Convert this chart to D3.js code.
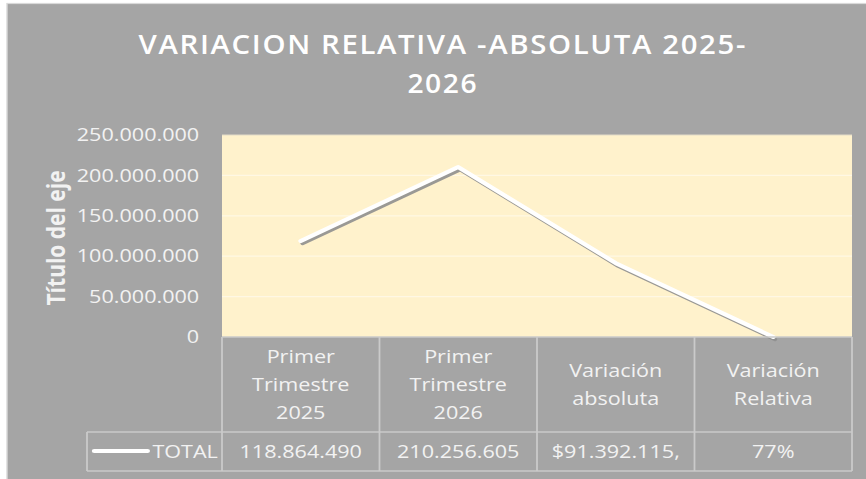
<!DOCTYPE html>
<html>
<head>
<meta charset="utf-8">
<script src="https://cdn.jsdelivr.net/npm/d3@7"></script>
<style>
  body { margin: 0; background: #fff; }
  text { font-family: "Open Sans", sans-serif; fill: #f2f2f2; }
</style>
</head>
<body>
<svg id="chart"></svg>
<script>
// chart data
const categories = [
    ["Primer", "Trimestre", "2025"],
    ["Primer", "Trimestre", "2026"],
    ["Variación", "absoluta"],
    ["Variación", "Relativa"]
]
const values = [118864490, 210256605, 91392115, 0.77]
const tableLabels = ["118.864.490", "210.256.605", "$91.392.115,", "77%"]
const yTicks = [0, 50000000, 100000000, 150000000, 200000000, 250000000]
const seriesName = "TOTAL"
const titleLines = ["VARIACION RELATIVA -ABSOLUTA 2025-", "2026"]

// the original picture is stretched sideways, so draw in a narrower frame
const stretch = 1.2
const W = 866 / stretch
const H = 479

const plot = { left: 185, right: 710, top: 135, bottom: 337 }
const table = { left: 72.5, headBottom: 432, bottom: 471 }

const locale = d3.formatLocale({ decimal: ",", thousands: ".", grouping: [3], currency: ["$", ""] })
const fmt = locale.format(",")

const svg = d3.select('#chart')
              .attr('width', 866)
              .attr('height', H)
              .attr('viewBox', `0 0 ${W} ${H}`)
              .attr('preserveAspectRatio', 'none')

// chart background
svg.append('rect')
   .attr('x', 7 / stretch).attr('y', 3.5)
   .attr('width', W).attr('height', H)
   .attr('fill', '#a5a5a5')
   .attr('stroke', '#d9d9d9')
   .attr('stroke-width', 1.2)

// title
svg.append('g')
   .selectAll('text')
   .data(titleLines)
   .enter().append('text')
   .attr('x', 369)
   .attr('y', (d, i) => 54 + i * 39)
   .attr('textLength', (d, i) => i == 0 ? 507 : 59)
   .attr('lengthAdjust', 'spacingAndGlyphs')
   .style('text-anchor', 'middle')
   .style('font-weight', 600)
   .style('font-size', '27px')
   .style('letter-spacing', '1.5px')
   .style('fill', '#ffffff')
   .text(d => d)

const x = d3.scaleBand()
            .domain(d3.range(categories.length))
            .range([plot.left, plot.right])
const y = d3.scaleLinear()
            .domain([0, 250000000])
            .range([plot.bottom, plot.top])

// plot area
svg.append('rect')
   .attr('x', plot.left).attr('y', plot.top)
   .attr('width', plot.right - plot.left)
   .attr('height', plot.bottom - plot.top)
   .attr('fill', '#fff2cc')

// gridlines
svg.append('g')
   .selectAll('line')
   .data(yTicks.slice(1))
   .enter().append('line')
   .attr('x1', plot.left).attr('x2', plot.right)
   .attr('y1', d => y(d)).attr('y2', d => y(d))
   .attr('stroke', d => d == 250000000 ? '#e3dcc8' : '#fff8e4')
   .attr('stroke-width', 1.2)

// y axis
const yAxis = svg.append('g')
                 .attr('transform', `translate(166,0)`)
                 .call(d3.axisLeft(y).tickValues(yTicks).tickFormat(fmt).tickSize(0).tickPadding(0))
yAxis.select('.domain').remove()
yAxis.selectAll('text')
     .style('font-size', '18px')
     .style('font-family', '"Open Sans", sans-serif')
     .attr('fill', '#f2f2f2')

svg.append('text')
   .attr('transform', `translate(54,238) rotate(-90)`)
   .style('text-anchor', 'middle')
   .style('font-weight', 'bold')
   .style('font-size', '21px')
   .text("Título del eje")

// line with its shadow
const line = d3.line()
               .x((d, i) => x(i) + x.bandwidth() / 2)
               .y(d => y(d))

svg.append('path')
   .datum(values)
   .attr('d', line)
   .attr('transform', `translate(${1.8 / stretch},2.5)`)
   .attr('fill', 'none')
   .attr('stroke', '#8f8f8f')
   .attr('stroke-width', 3.5)
   .attr('stroke-linecap', 'round')
   .attr('opacity', 0.9)

svg.append('path')
   .datum(values)
   .attr('d', line)
   .attr('fill', 'none')
   .attr('stroke', '#ffffff')
   .attr('stroke-width', 4)
   .attr('stroke-linecap', 'round')
   .attr('stroke-linejoin', 'round')

// data table
const grid = svg.append('g')
                .attr('stroke', '#cacaca')
                .attr('stroke-width', 1.5)
                .attr('fill', 'none')

grid.append('line')
    .attr('x1', plot.left).attr('x2', plot.right)
    .attr('y1', plot.bottom).attr('y2', plot.bottom)
grid.append('line')
    .attr('x1', table.left).attr('x2', plot.right)
    .attr('y1', table.headBottom).attr('y2', table.headBottom)
grid.append('line')
    .attr('x1', table.left).attr('x2', plot.right)
    .attr('y1', table.bottom).attr('y2', table.bottom)
grid.append('line')
    .attr('x1', table.left).attr('x2', table.left)
    .attr('y1', table.headBottom).attr('y2', table.bottom)
grid.selectAll('.col')
    .data(d3.range(categories.length + 1))
    .enter().append('line')
    .attr('class', 'col')
    .attr('x1', d => d < categories.length ? x(d) : plot.right)
    .attr('x2', d => d < categories.length ? x(d) : plot.right)
    .attr('y1', plot.bottom).attr('y2', table.bottom)

// header cells
const head = svg.append('g')
                .selectAll('text')
                .data(categories)
                .enter().append('text')
                .style('text-anchor', 'middle')
                .style('font-size', '18px')
                .attr('y', d => 391 - (d.length - 1) * 28 / 2)

head.selectAll('tspan')
    .data(d => d)
    .enter().append('tspan')
    .attr('x', function () {
        const i = categories.indexOf(d3.select(this.parentNode).datum())
        return x(i) + x.bandwidth() / 2
    })
    .attr('dy', (d, i) => i == 0 ? 0 : 28)
    .text(d => d)

// value row
svg.append('g')
   .selectAll('text')
   .data(tableLabels)
   .enter().append('text')
   .attr('x', (d, i) => x(i) + x.bandwidth() / 2)
   .attr('y', 458)
   .style('text-anchor', 'middle')
   .style('font-size', '18px')
   .text(d => d)

// legend key
svg.append('line')
   .attr('x1', 78.5).attr('x2', 123)
   .attr('y1', 451).attr('y2', 451)
   .attr('stroke', '#ffffff')
   .attr('stroke-width', 4)
   .attr('stroke-linecap', 'round')

svg.append('text')
   .attr('x', 127)
   .attr('y', 458)
   .style('font-size', '18px')
   .text(seriesName)
</script>
</body>
</html>
